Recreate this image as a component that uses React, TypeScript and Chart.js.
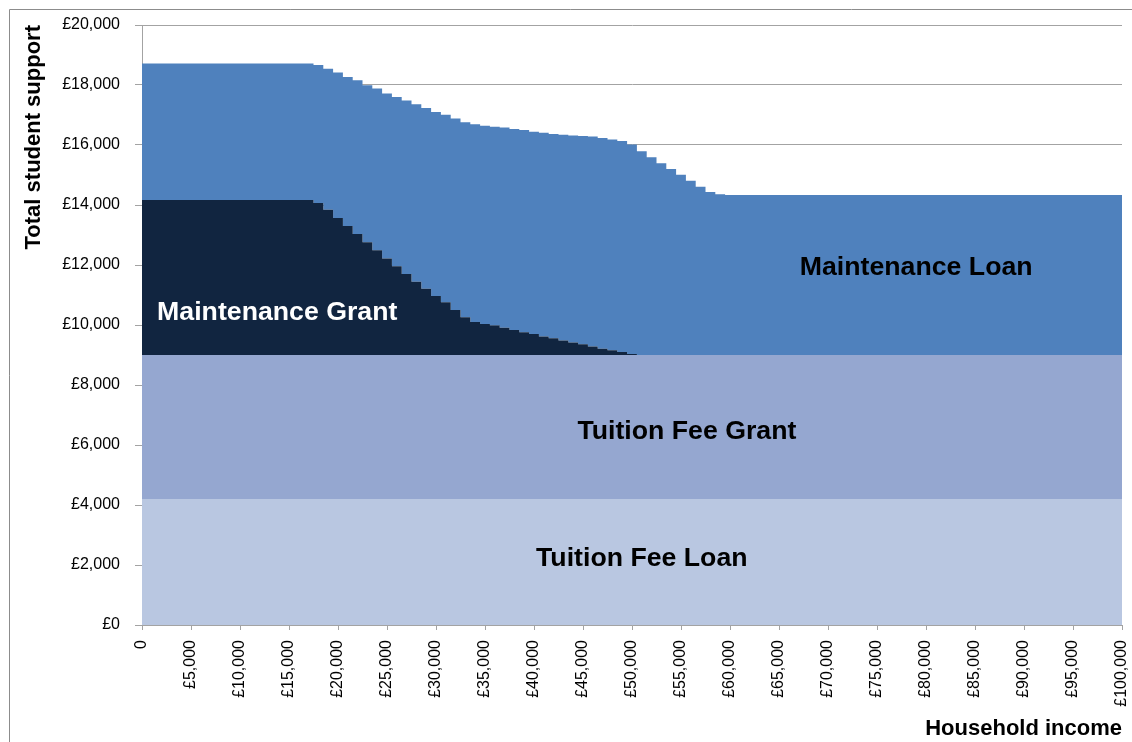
import React, { useEffect, useRef } from 'react';
import { Chart, registerables } from 'chart.js';

Chart.register(...registerables);

// Household income (£) at which each value applies
const incomes = [
  0, 17000, 18000, 19000, 20000, 21000, 22000, 23000, 24000, 25000, 26000, 27000, 28000, 29000, 30000,
  31000, 32000, 33000, 34000, 35000, 36000, 37000, 38000, 39000, 40000, 41000, 42000, 43000, 44000, 45000,
  46000, 47000, 48000, 49000, 50000, 51000, 52000, 53000, 54000, 55000, 56000, 57000, 58000, 59000, 60000,
  100000,
];

const tuitionFeeLoan = [
  4200, 4200, 4200, 4200, 4200, 4200, 4200, 4200, 4200, 4200, 4200, 4200, 4200, 4200, 4200,
  4200, 4200, 4200, 4200, 4200, 4200, 4200, 4200, 4200, 4200, 4200, 4200, 4200, 4200, 4200,
  4200, 4200, 4200, 4200, 4200, 4200, 4200, 4200, 4200, 4200, 4200, 4200, 4200, 4200, 4200,
  4200,
];

const tuitionFeeGrant = [
  4800, 4800, 4800, 4800, 4800, 4800, 4800, 4800, 4800, 4800, 4800, 4800, 4800, 4800, 4800,
  4800, 4800, 4800, 4800, 4800, 4800, 4800, 4800, 4800, 4800, 4800, 4800, 4800, 4800, 4800,
  4800, 4800, 4800, 4800, 4800, 4800, 4800, 4800, 4800, 4800, 4800, 4800, 4800, 4800, 4800,
  4800,
];

const maintenanceGrant = [
  5170, 5170, 5070, 4840, 4570, 4300, 4030, 3760, 3490, 3220, 2960, 2700, 2440, 2210, 1970,
  1760, 1500, 1260, 1100, 1030, 980, 910, 830, 760, 700, 620, 560, 480, 420, 360,
  280, 210, 160, 100, 30, 0, 0, 0, 0, 0, 0, 0, 0, 0, 0,
  0,
];

const maintenanceLoan = [
  4550, 4550, 4600, 4700, 4850, 4970, 5130, 5230, 5390, 5500, 5640, 5780, 5920, 6020, 6130,
  6250, 6380, 6500, 6590, 6610, 6630, 6670, 6700, 6740, 6740, 6790, 6810, 6860, 6900, 6940,
  7000, 7020, 7020, 7030, 6990, 6790, 6590, 6390, 6200, 6010, 5810, 5610, 5430, 5360, 5330,
  5330,
];

const seriesNames = ['Tuition Fee Loan', 'Tuition Fee Grant', 'Maintenance Grant', 'Maintenance Loan'];

const xTickLabels = [
  '0', '£5,000', '£10,000', '£15,000', '£20,000', '£25,000', '£30,000', '£35,000', '£40,000', '£45,000',
  '£50,000', '£55,000', '£60,000', '£65,000', '£70,000', '£75,000', '£80,000', '£85,000', '£90,000',
  '£95,000', '£100,000',
];

const yTickLabels = [
  '£0', '£2,000', '£4,000', '£6,000', '£8,000', '£10,000', '£12,000', '£14,000', '£16,000', '£18,000', '£20,000',
];

const FONT = "'Liberation Sans', Arial, Helvetica, sans-serif";
const GRID = '#A3A3A3';

const colors = ['#B9C7E1', '#95A7D0', '#112540', '#4F81BD'];

// Area labels, placed in data coordinates
const areaLabels = [
  { text: 'Maintenance Grant', x: 13800, y: 10400, color: '#FFFFFF' },
  { text: 'Maintenance Loan', x: 79000, y: 11900, color: '#000000' },
  { text: 'Tuition Fee Grant', x: 55600, y: 6430, color: '#000000' },
  { text: 'Tuition Fee Loan', x: 51000, y: 2200, color: '#000000' },
];

const labelPlugin = {
  id: 'areaLabels',
  afterDatasetsDraw(chart: any) {
    const { ctx, scales } = chart;
    ctx.save();
    ctx.font = `bold 26.7px ${FONT}`;
    ctx.textAlign = 'center';
    ctx.textBaseline = 'middle';
    for (const l of areaLabels) {
      ctx.fillStyle = l.color;
      ctx.fillText(l.text, scales.x.getPixelForValue(l.x), scales.y.getPixelForValue(l.y));
    }
    ctx.restore();
  },
};

const framePlugin = {
  id: 'frame',
  afterDraw(chart: any) {
    const { ctx, width, height } = chart;
    ctx.save();
    ctx.strokeStyle = '#8C8C8C';
    ctx.lineWidth = 1;
    ctx.beginPath();
    ctx.moveTo(9.5, height);
    ctx.lineTo(9.5, 9.5);
    ctx.lineTo(width, 9.5);
    ctx.stroke();
    ctx.restore();
  },
};

export default function App() {
  const canvasRef = useRef<HTMLCanvasElement | null>(null);

  useEffect(() => {
    document.body.style.margin = '0';
    document.body.style.overflow = 'hidden';
    const series = [tuitionFeeLoan, tuitionFeeGrant, maintenanceGrant, maintenanceLoan];
    const datasets = series.map((values, i) => ({
      label: seriesNames[i],
      data: incomes.map((x, j) => ({ x, y: values[j] })),
      backgroundColor: colors[i],
      borderColor: colors[i],
      borderWidth: 0,
      pointRadius: 0,
      stepped: 'middle' as const,
      fill: i === 0 ? 'origin' : '-1',
    }));

    const chart = new Chart(canvasRef.current!, {
      type: 'line',
      data: { datasets },
      plugins: [labelPlugin, framePlugin],
      options: {
        animation: false,
        responsive: true,
        maintainAspectRatio: false,
        layout: { padding: { left: 0, right: 10, top: 25, bottom: 0 } },
        plugins: { legend: { display: false }, tooltip: { enabled: false } },
        scales: {
          x: {
            type: 'linear',
            min: 0,
            max: 100000,
            afterFit: (s: any) => {
              s.height = 117;
              s.paddingLeft = 0;
              s.paddingRight = 0;
            },
            ticks: {
              stepSize: 5000,
              autoSkip: false,
              minRotation: 90,
              maxRotation: 90,
              padding: 10,
              color: '#000',
              font: { family: FONT, size: 16 },
              callback: (v: any) => xTickLabels[Math.round(Number(v) / 5000)] ?? '',
            },
            grid: { drawOnChartArea: false, drawTicks: true, tickLength: 5, color: GRID },
            border: { display: true, color: GRID, width: 1 },
            title: {
              display: true,
              text: 'Household income',
              align: 'end',
              color: '#000',
              font: { family: FONT, size: 22, weight: 'bold' },
              padding: { top: 0, bottom: 0 },
            },
          },
          y: {
            stacked: true,
            min: 0,
            max: 20000,
            afterFit: (s: any) => { s.width = 142; },
            ticks: {
              stepSize: 2000,
              padding: 15,
              color: '#000',
              font: { family: FONT, size: 16 },
              callback: (v: any) => yTickLabels[Math.round(Number(v) / 2000)] ?? '',
            },
            grid: { color: GRID, tickLength: 7 },
            border: { display: true, color: GRID, width: 1 },
            title: {
              display: true,
              text: 'Total student support',
              align: 'end',
              color: '#000',
              font: { family: FONT, size: 22, weight: 'bold' },
              padding: { top: 21, bottom: 0 },
            },
          },
        },
      },
    });
    return () => chart.destroy();
  }, []);

  return (
    <div style={{ position: 'relative', width: '1132px', height: '742px' }}>
      <canvas ref={canvasRef} />
    </div>
  );
}
